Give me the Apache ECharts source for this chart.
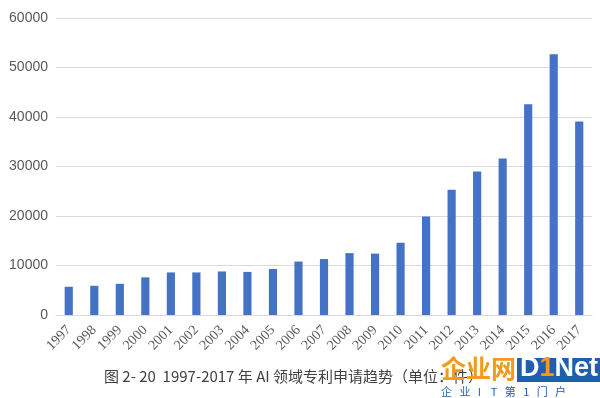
<!DOCTYPE html>
<html><head><meta charset="utf-8">
<script src="https://cdn.jsdelivr.net/npm/echarts@6/dist/echarts.min.js"></script>
<style>html,body{margin:0;padding:0;background:#fff}#c{width:600px;height:398px}</style>
</head><body><div id="c"></div>
<script>
const years = ['1997','1998','1999','2000','2001','2002','2003','2004','2005','2006','2007','2008','2009','2010','2011','2012','2013','2014','2015','2016','2017'];
const patents = [5700,5900,6300,7600,8600,8600,8800,8700,9300,10800,11300,12500,12400,14600,19900,25300,29000,31600,42600,52700,39100];
const yTicks = [0,10000,20000,30000,40000,50000,60000];
const caption = '图 2- 20  1997-2017 年 AI 领域专利申请趋势（单位：件）';

const chart = echarts.init(document.getElementById('c'));
chart.setOption({
  animation: false,
  grid: {left: 56, right: 8, top: 18, bottom: 83},
  xAxis: {
    type: 'category', data: years,
    axisLine: {lineStyle: {color: '#d9d9d9', width: 1}},
    axisTick: {show: false},
    axisLabel: {rotate: 45, interval: 0, color: '#595959', fontFamily: 'Liberation Serif', fontSize: 14, margin: 13}
  },
  yAxis: {
    type: 'value', min: yTicks[0], max: yTicks[yTicks.length-1], interval: 10000,
    axisLine: {show: false}, axisTick: {show: false},
    axisLabel: {color: '#595959', fontFamily: 'Liberation Sans', fontSize: 14, margin: 8, formatter: v => String(v)},
    splitLine: {lineStyle: {color: '#d9d9d9', width: 1}}
  },
  series: [{
    type: 'bar', data: patents, barWidth: '32%',
    itemStyle: {color: '#4472c4'}
  }],
  graphic: [
    {type: 'text', left: 104, top: 369, style: {text: caption, fill: '#404040', font: '15px "Noto Sans CJK SC", sans-serif'}},
    {type: 'text', left: 441, top: 356, z: 10, style: {text: '企业网', fill: '#f39a1e', font: 'bold 25px "Noto Sans CJK SC", sans-serif'}},
    {type: 'rect', left: 517, top: 358, z: 10, shape: {width: 83, height: 24}, style: {fill: '#1f5fae'}},
    {type: 'text', left: 520, top: 355, z: 11, style: {rich: {a: {fill: '#fff', font: 'bold 27px "Liberation Sans", sans-serif'}, b: {fill: '#f39a1e', font: 'bold 27px "Liberation Sans", sans-serif'}}, text: '{a|D}{b|1}{a|Net}'}},
    {type: 'text', left: 441, top: 386, z: 10, style: {text: '企   业   I    T   第   1   门   户', fill: '#1f5fae', font: '11px "Noto Sans CJK SC", sans-serif'}}
  ]
});
</script></body></html>
